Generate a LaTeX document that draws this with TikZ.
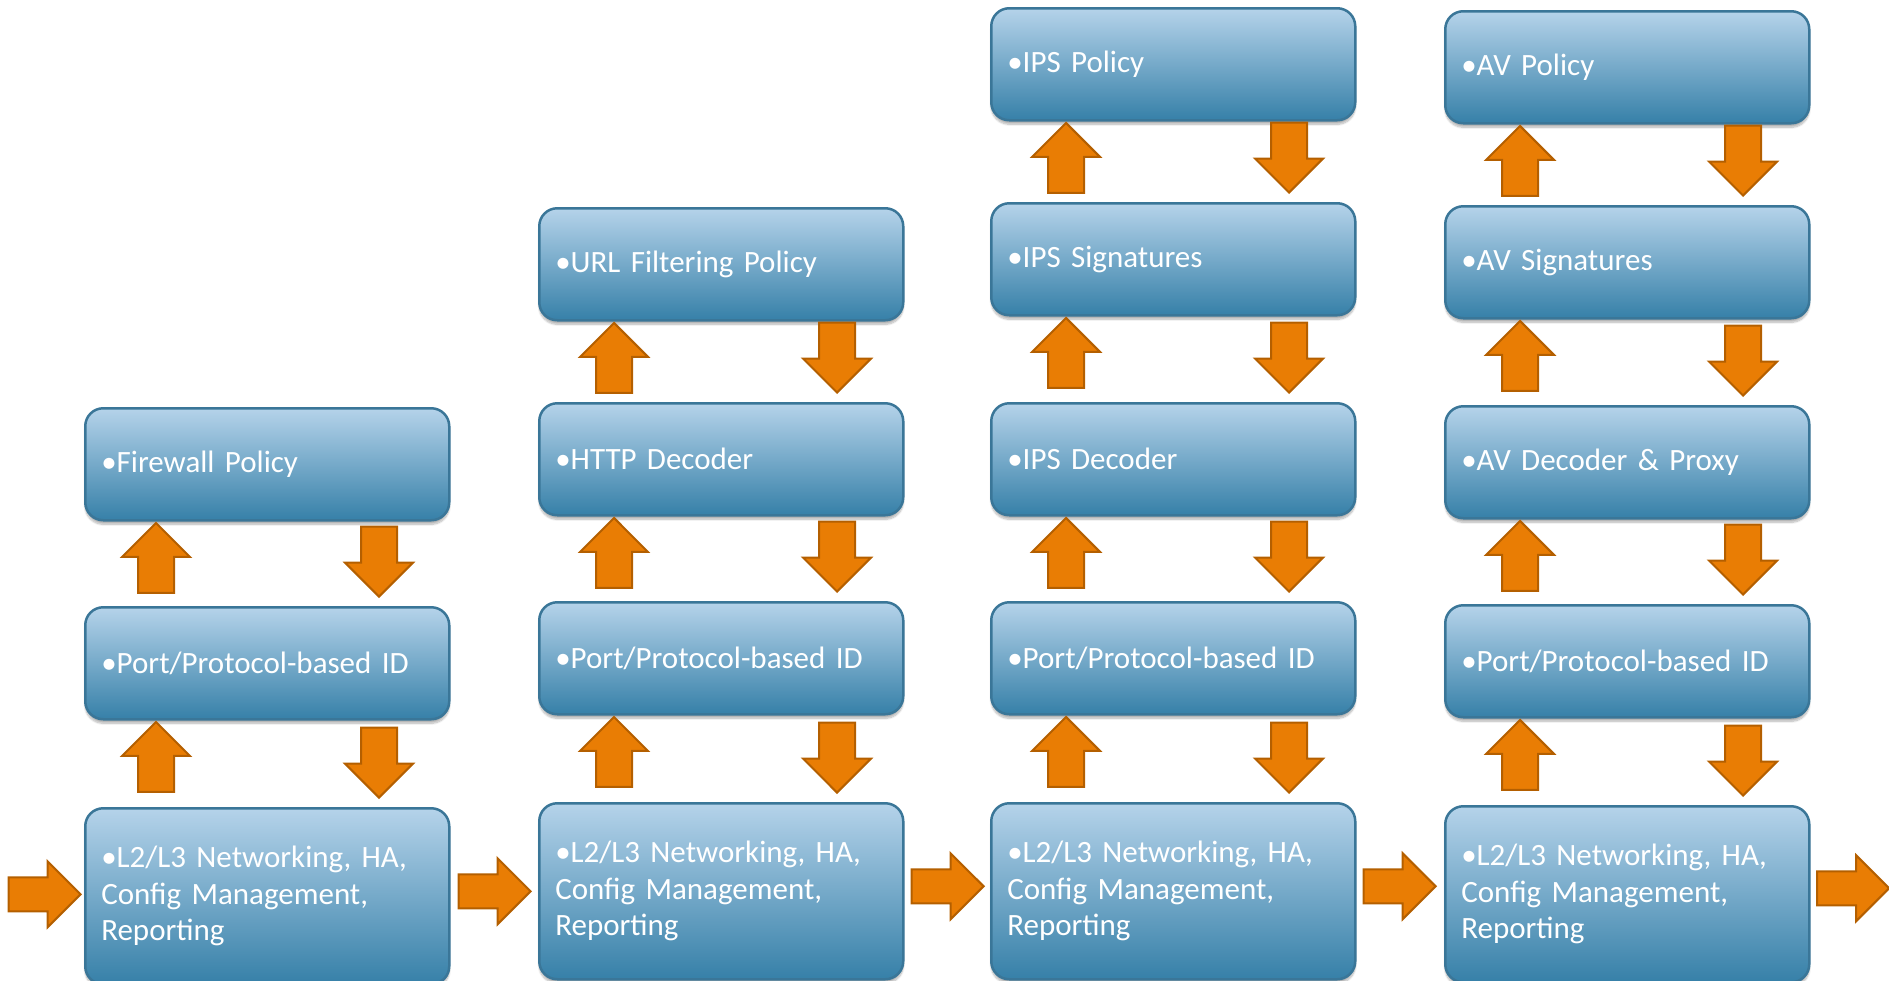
\documentclass[tikz,border=0pt]{standalone}
\usepackage{fontspec}
\setmainfont{Carlito}
\usetikzlibrary{shapes.arrows,calc,shadows.blur}
\definecolor{boxtop}{RGB}{181,211,234}
\definecolor{boxbot}{RGB}{54,128,168}
\definecolor{boxline}{RGB}{58,118,152}
\definecolor{arrfill}{RGB}{233,125,4}
\definecolor{arrline}{RGB}{180,95,0}
\protected\def\stagefont{\fontsize{31}{36.5}\selectfont\spaceskip=6pt\relax\xspaceskip=6pt\relax}
\tikzset{
 stage/.style={anchor=north west, rectangle, rounded corners=18pt, draw=boxline, line width=2.5pt,
   top color=boxtop, bottom color=boxbot, minimum width=364pt, minimum height=112pt,
   text width=332pt, inner xsep=16pt, inner ysep=0pt, align=left, text=white,
   font=\stagefont,
   blur shadow={shadow blur steps=8, shadow xshift=0pt, shadow yshift=-4pt, shadow opacity=30}},
 base/.style={stage, minimum height=176pt},
 blockarrow/.style={single arrow, draw=arrline, fill=arrfill, line width=2pt, inner xsep=0pt,
   single arrow head extend=16pt, single arrow tip angle=90, anchor=tip},
 uparrow/.style={blockarrow, inner ysep=17pt, minimum height=70pt, minimum width=66pt, rotate=90},
 downarrow/.style={blockarrow, inner ysep=17pt, minimum height=70pt, minimum width=66pt, rotate=-90},
 rightarrow/.style={blockarrow, inner ysep=16pt, minimum height=72pt, minimum width=64pt},
}
\begin{document}
\begin{tikzpicture}[x=1pt,y=-1pt]
\useasboundingbox (0,0) rectangle (1889,980);
\clip (0,0) rectangle (1889,980);
% column 1
\node[stage] (fw) at (84,407) {•Firewall Policy};
\node[stage] (p1) at (84,606) {•Port/Protocol-based ID};
\node[base] (n1) at (84,807) {•L2/L3 Networking, HA,\\Config Management,\\Reporting};
% column 2
\node[stage] (url) at (538,207) {•URL Filtering Policy};
\node[stage] (http) at (538,402) {•HTTP Decoder};
\node[stage] (p2) at (538,601) {•Port/Protocol-based ID};
\node[base] (n2) at (538,802) {•L2/L3 Networking, HA,\\Config Management,\\Reporting};
% column 3
\node[stage] (ipsp) at (990,7) {•IPS Policy};
\node[stage] (ipss) at (990,202) {•IPS Signatures};
\node[stage] (ipsd) at (990,402) {•IPS Decoder};
\node[stage] (p3) at (990,601) {•Port/Protocol-based ID};
\node[base] (n3) at (990,802) {•L2/L3 Networking, HA,\\Config Management,\\Reporting};
% column 4
\node[stage] (avp) at (1444,10) {•AV Policy};
\node[stage] (avs) at (1444,205) {•AV Signatures};
\node[stage] (avd) at (1444,405) {•AV Decoder \& Proxy};
\node[stage] (p4) at (1444,604) {•Port/Protocol-based ID};
\node[base] (n4) at (1444,805) {•L2/L3 Networking, HA,\\Config Management,\\Reporting};
% vertical arrows (placed by their tips)
\foreach \u/\l/\xa/\xb in {fw/p1/72/295, p1/n1/72/295,
  url/http/76/299, http/p2/76/299, p2/n2/76/299,
  ipsp/ipss/76/299, ipss/ipsd/76/299, ipsd/p3/76/299, p3/n3/76/299,
  avp/avs/76/299, avs/avd/76/299, avd/p4/76/299, p4/n4/76/299} {
  \node[uparrow] (up-\u) at ($(\u.south west)+(\xa,0)$) {};
  \node[downarrow] (dn-\u) at ($(\l.north west)+(\xb,-8)$) {};
}
% horizontal arrows (placed by their tips)
\node[rightarrow] (r0) at ($(n1.west)+(-2,-2)$) {};
\node[rightarrow] (r1) at ($(n2.west)+(-6,0)$) {};
\node[rightarrow] (r2) at ($(n3.west)+(-5,-5)$) {};
\node[rightarrow] (r3) at ($(n4.west)+(-7,-8)$) {};
\node[rightarrow] (r4) at ($(n4.east)+(80,-6)$) {};
\end{tikzpicture}
\end{document}
